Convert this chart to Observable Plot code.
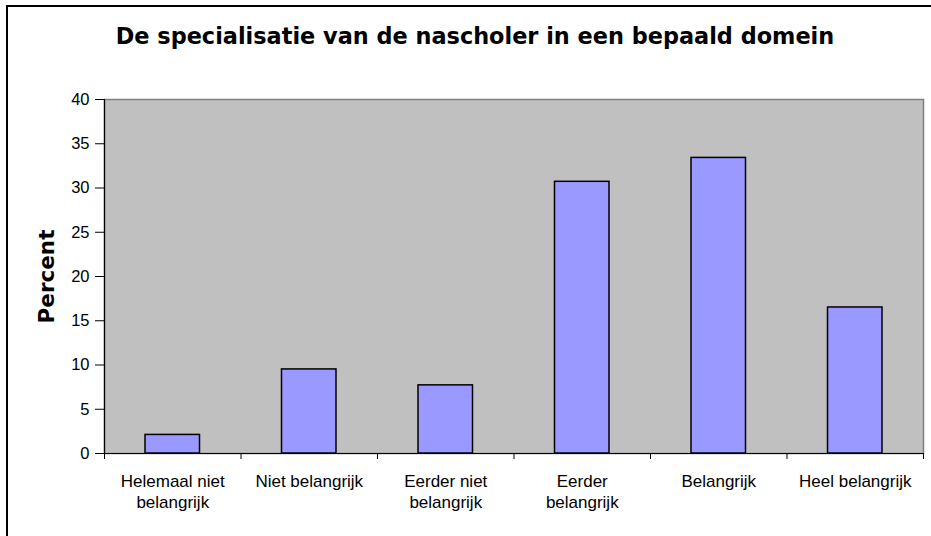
<!DOCTYPE html>
<html>
<head>
<meta charset="utf-8">
<script src="https://cdn.jsdelivr.net/npm/d3@7"></script>
<script src="https://cdn.jsdelivr.net/npm/@observablehq/plot@0.6"></script>
<style>
  html, body { margin: 0; padding: 0; background: #fff; overflow: hidden; }
  #wrap { position: relative; width: 931px; height: 536px; overflow: hidden; }
  #border { position: absolute; left: 6px; top: 5px; width: 940px; height: 545px; border: 2px solid #000; box-sizing: border-box; }
  #title { position: absolute; left: 19px; width: 912px; top: 23px; text-align: center;
    font-family: "DejaVu Sans", Verdana, sans-serif; font-weight: bold; font-size: 22.4px; line-height: normal; color: #000; white-space: nowrap; }
  #chart { position: absolute; left: 0; top: 0; }
</style>
</head>
<body>
<div id="wrap">
  <div id="border"></div>
  <div id="chart"></div>
  <div id="title">De specialisatie van de nascholer in een bepaald domein</div>
</div>
<script>
const categories = [
  "Helemaal niet\nbelangrijk",
  "Niet belangrijk",
  "Eerder niet\nbelangrijk",
  "Eerder\nbelangrijk",
  "Belangrijk",
  "Heel belangrijk"
];
const values = [2.1, 9.5, 7.7, 30.7, 33.4, 16.5];
const yTicks = [0, 5, 10, 15, 20, 25, 30, 35, 40];
const yLabel = "Percent";

const data = categories.map((c, i) => ({ i, cat: c, value: values[i] }));

const chart = Plot.plot({
  width: 931,
  height: 536,
  marginTop: 99,
  marginLeft: 104,
  marginRight: 8,
  marginBottom: 83,
  x: { domain: [0, categories.length], axis: null },
  y: { domain: [0, 40], axis: null },
  style: { fontFamily: "'Liberation Sans', Arial, sans-serif", fontSize: "16.5px", background: "transparent", color: "#000" },
  marks: [
    Plot.frame({ fill: "#C0C0C0", stroke: "#808080", strokeWidth: 1.5 }),
    Plot.rectY(data, {
      x1: d => d.i, x2: d => d.i + 1, y: "value",
      insetLeft: 41, insetRight: 41,
      fill: "#9999FF", stroke: "#000", strokeWidth: 1.5
    }),
    Plot.axisY({ ticks: yTicks, tickSize: 9, tickPadding: 6, label: null, fontSize: 16.5 }),
    Plot.axisX({ ticks: d3.range(categories.length + 1), tickSize: 6, tickFormat: () => "", label: null }),
    Plot.ruleX([0], { stroke: "#000", strokeWidth: 1.2 }),
    Plot.ruleY([0], { stroke: "#000", strokeWidth: 1.2 }),
    Plot.text(data, {
      x: d => d.i + 0.5, text: "cat",
      frameAnchor: "bottom", lineAnchor: "top", dy: 18, lineHeight: 1.25, fontSize: 17, fill: "#000"
    }),
    Plot.text([yLabel], {
      text: d => d, frameAnchor: "left", textAnchor: "middle", rotate: -90, dx: -57,
      fontSize: 21.5, fontWeight: "bold", fontFamily: "'DejaVu Sans', Verdana, sans-serif", fill: "#000"
    })
  ]
});
document.getElementById("chart").appendChild(chart);
</script>
</body>
</html>
